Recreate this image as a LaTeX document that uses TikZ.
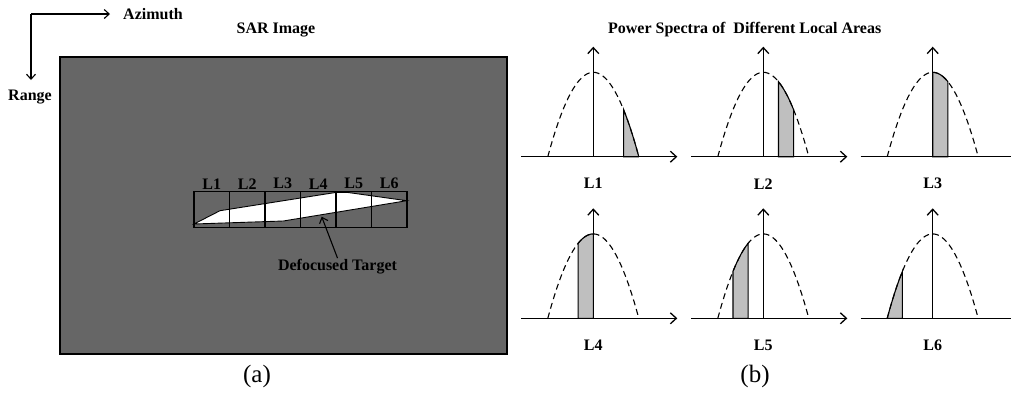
\documentclass[tikz,border=0pt]{standalone}
\usepackage{fontspec}
\setmainfont{Liberation Serif}
\usetikzlibrary{positioning,arrows.meta}

\begin{document}
\begin{tikzpicture}[
        x=1pt, y=-1pt,
        lbl/.style={font=\fontsize{16}{18}\selectfont\bfseries, inner sep=1pt},
        captxt/.style={font=\fontsize{25}{28}\selectfont, inner sep=1pt},
        cellbox/.style={rectangle, draw=black, line width=1.2pt, minimum width=35.5pt, minimum height=36pt, inner sep=0pt},
        dir/.style={line width=1.1pt, -{Straight Barb[length=5pt, width=9pt]}},
        axis/.style={line width=1.3pt, -{Straight Barb[length=6pt, width=11pt]}},
        curve/.style={line width=1.1pt, dash pattern=on 6pt off 4pt},
        band/.style={fill=gray!50, draw=black, line width=1.1pt}
    ]
        \useasboundingbox (0,0) rectangle (1011,394);

        % --- Directions ---
        \coordinate (corner) at (31,14);
        \coordinate (azTip) at (110,14);
        \coordinate (rgTip) at (31,80);
        \node (azimuth) [lbl] at (153,14) {Azimuth};
        \node (range) [lbl] at (30,97) {Range};
        \draw [dir] (corner) -- (azTip);
        \draw [dir] (corner) -- (rgTip);

        % --- SAR image ---
        \node (sartitle) [lbl] at (276,30) {SAR Image};
        \node (sar) [rectangle, draw=black, line width=2pt, fill=black!60, minimum width=447pt, minimum height=297pt] at (283.5,205.5) {};

        % --- Defocused target ---
        \filldraw [fill=white, draw=black, line width=0.9pt] (194,224) -- (220,210.7) -- (336.7,192.3) -- (346.7,192.3) -- (406.7,200.7) -- (283.3,221) -- cycle;
        \foreach \i in {1,...,6} {
            \node (cell\i) [cellbox] at ({194+35.5*(\i-0.5)},209.8) {};
            \node (lab\i) [lbl, above=1pt of cell\i] {L\i};
        }
        \coordinate (hit) at (321.7,216.7);
        \node (target) [lbl] at (337.5,266.7) {Defocused Target};
        \draw [dir] (target.north) -- (hit);

        % --- Power spectra ---
        \node (spectitle) [lbl] at (744.7,30) {Power Spectra of~ Different Local Areas};
        \foreach \cx/\cy/\name/\a/\b/\e in {593.3/156.7/L1/30.3/45.5/84, 763.3/156.7/L2/15.2/30.3/84, 932.7/156.7/L3/0/15.2/100,
                                         593.3/318.3/L4/-15.2/0/84, 763.3/318.3/L5/-30.3/-15.2/84, 932.7/318.3/L6/-45.5/-30.3/100} {
            \coordinate (o\name) at (\cx,\cy);
            \filldraw [band] (\cx+\a,\cy) -- plot[domain=\a:\b, samples=12] ({\cx+\x},{\cy-84.4*(1-(\x/45.5)^2)}) -- (\cx+\b,\cy) -- cycle;
            \draw [curve] plot[domain=-45.5:45.5, samples=41] ({\cx+\x},{\cy-84.4*(1-(\x/45.5)^2)});
            \draw [axis] (\cx-72,\cy) -- (\cx+\e,\cy);
            \draw [axis] (o\name) -- ++(0,-110);
            \node (lab\name) [lbl] at (\cx,\cy+27) {\name};
        }

        % --- Captions ---
        \node (capa) [captxt] at (257,376) {(a)};
        \node (capb) [captxt] at (755,376) {(b)};
    \end{tikzpicture}
\end{document}
